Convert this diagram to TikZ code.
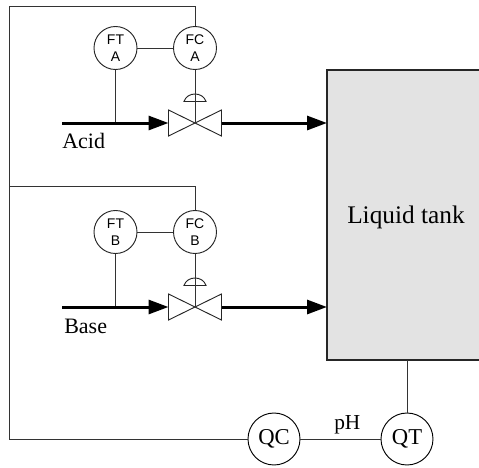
\documentclass[tikz,border=0pt]{standalone}
\usepackage{fontspec}
\setmainfont{Liberation Serif}
\setsansfont{Liberation Sans}
\usetikzlibrary{arrows.meta}
\tikzset{
  x=0.75pt,y=-0.75pt,
  thin line/.style={draw=black!80,line width=0.75pt},
  flow/.style={draw=black,line width=2.25pt,-{Triangle[length=15pt,width=10.5pt]}},
  instr/.style={circle,draw=black!85,line width=0.7pt,fill=white,minimum size=32.25pt,inner sep=0pt,align=center,
     font=\sffamily\fontsize{10.5}{13.2}\selectfont},
  loopctl/.style={circle,draw=black,line width=0.7pt,fill=white,minimum size=39pt,inner sep=0pt,
     font=\fontsize{17}{20}\selectfont},
  lbl/.style={anchor=base west,inner sep=0pt,font=\fontsize{16.5}{20}\selectfont},
  tank/.style={draw=black!85,line width=1pt,fill=black!11,minimum width=116.25pt,minimum height=217.5pt,inner sep=0pt},
  valve/.pic={
    \draw[draw=black!85,line width=0.7pt,fill=white] (-26.5,-13) -- (26.5,13) -- (26.5,-13) -- (-26.5,13) -- cycle;
    \draw[draw=black!85,line width=0.7pt,fill=white] (-11,-21.5) .. controls (-8,-31.5) and (8,-31.5) .. (11,-21.5) -- cycle;
    \coordinate (-L) at (-26.5,0);
    \coordinate (-R) at (26.5,0);
    \coordinate (-C) at (0,0);
  }
}
\begin{document}
\begin{tikzpicture}
\useasboundingbox (0,0) rectangle (479,468);
% tank
\node[tank] (T) at (404.5,215) {};
\node[font=\fontsize{19}{22}\selectfont,inner sep=0pt] (Tl) at (406,217) {Liquid tank};
% instruments
\node[instr] (FTA) at (115.5,48) {FT\\A};
\node[instr] (FCA) at (195,48) {FC\\A};
\node[instr] (FTB) at (115.5,232) {FT\\B};
\node[instr] (FCB) at (195,232) {FC\\B};
\node[loopctl] (QC) at (274,439) {QC};
\node[loopctl] (QT) at (407,439) {QT};
% valves
\pic (VA) at (195,123) {valve};
\pic (VB) at (195,307) {valve};
% anchors
\coordinate (ainl) at (62,123);
\coordinate (binl) at (62,307);
\coordinate (aft) at (115.5,123);
\coordinate (bft) at (115.5,307);
\coordinate (atk) at (327,123);
\coordinate (btk) at (327,307);
\coordinate (tkb) at (407,360);
\coordinate (c1) at (9.5,439);
\coordinate (c2) at (9.5,6);
\coordinate (c3) at (195,6);
\coordinate (c4) at (9.5,186);
\coordinate (c5) at (195,186);
% signal lines
\draw[thin line] (QC.west) -- (c1) -- (c2) -- (c3) -- (FCA.north);
\draw[thin line] (c4) -- (c5) -- (FCB.north);
\draw[thin line] (FTA) -- (FCA);
\draw[thin line] (FTB) -- (FCB);
\draw[thin line] (FTA) -- (aft);
\draw[thin line] (FTB) -- (bft);
\draw[thin line] (FCA) -- (VA-C);
\draw[thin line] (FCB) -- (VB-C);
\draw[thin line] (QC) -- (QT);
\draw[thin line] (QT) -- (tkb);
% flows
\draw[flow] (ainl) -- (VA-L);
\draw[flow] (VA-R) -- (atk);
\draw[flow] (binl) -- (VB-L);
\draw[flow] (VB-R) -- (btk);
% labels
\node[lbl] (acid) at (62,148) {Acid};
\node[lbl] (base) at (64,333) {Base};
\node[lbl,font=\fontsize{16}{20}\selectfont] (ph) at (334,429) {pH};
\end{tikzpicture}
\end{document}
